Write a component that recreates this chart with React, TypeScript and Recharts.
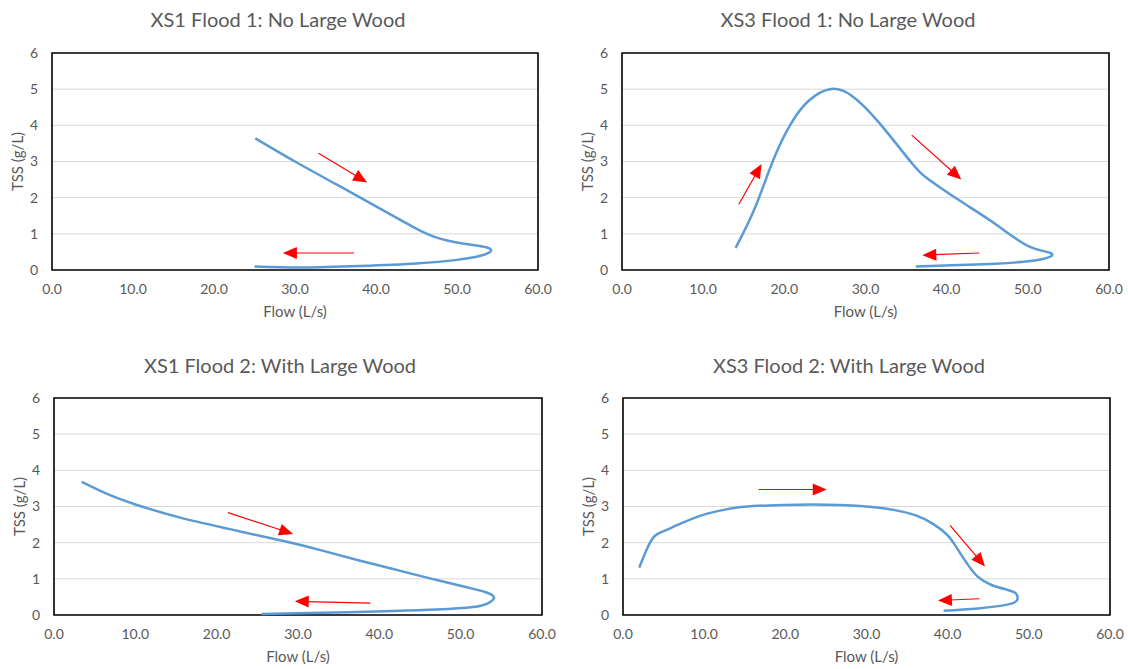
import React from 'react';
import {
  LineChart,
  Line,
  XAxis,
  YAxis,
  CartesianGrid,
  ReferenceArea,
  ReferenceLine,
} from 'recharts';

// tick labels
const flowTicks = [0, 10, 20, 30, 40, 50, 60];
const tssTicks = [0, 1, 2, 3, 4, 5, 6];

// XS1 Flood 1: No Large Wood
const xs1f1Flow = [25.1, 30.0, 35.0, 40.0, 42.5, 44.5, 46.3, 48.0, 49.8, 52.0, 53.6, 54.2, 53.0, 50.0, 45.0, 38.0, 31.0, 25.0];
const xs1f1Tss = [3.64, 3.0, 2.38, 1.76, 1.45, 1.2, 1.0, 0.86, 0.77, 0.69, 0.63, 0.53, 0.4, 0.28, 0.18, 0.11, 0.07, 0.1];
const xs1f1Arrows = [
  [32.9, 3.23, 38.9, 2.42],
  [37.3, 0.47, 28.5, 0.47],
];

// XS3 Flood 1: No Large Wood
const xs3f1Flow = [14.0, 16.4, 18.6, 20.8, 23.0, 25.6, 28.3, 31.8, 35.8, 38.0, 41.6, 46.0, 50.0, 52.8, 51.7, 46.0, 41.6, 36.2];
const xs3f1Tss = [0.61, 1.73, 3.02, 4.04, 4.68, 5.0, 4.82, 4.04, 2.93, 2.47, 1.92, 1.27, 0.67, 0.47, 0.3, 0.17, 0.14, 0.1];
const xs3f1Arrows = [
  [14.4, 1.82, 17.2, 2.93],
  [35.7, 3.73, 41.8, 2.5],
  [44.0, 0.47, 37.0, 0.41],
];

// XS1 Flood 2: With Large Wood
const xs1f2Flow = [3.4, 6.6, 10.1, 15.4, 21.9, 28.5, 33.0, 37.3, 41.7, 46.1, 50.5, 53.1, 54.1, 53.4, 51.5, 47.0, 41.7, 32.9, 25.5];
const xs1f2Tss = [3.68, 3.34, 3.05, 2.7, 2.36, 2.03, 1.78, 1.52, 1.27, 1.02, 0.78, 0.63, 0.48, 0.33, 0.22, 0.15, 0.11, 0.06, 0.03];
const xs1f2Arrows = [
  [21.4, 2.83, 29.4, 2.24],
  [38.9, 0.33, 29.6, 0.38],
];

// XS3 Flood 2: With Large Wood
const xs3f2Flow = [2.0, 2.8, 3.8, 5.0, 6.5, 8.5, 10.5, 12.7, 14.9, 18.0, 21.6, 25.0, 28.2, 31.0, 33.5, 36.0, 38.2, 40.0, 41.2, 42.4, 43.7, 45.4, 47.3, 48.4, 48.6, 47.6, 43.7, 39.5];
const xs3f2Tss = [1.31, 1.75, 2.16, 2.32, 2.47, 2.66, 2.81, 2.92, 2.99, 3.03, 3.05, 3.05, 3.03, 2.98, 2.9, 2.76, 2.52, 2.2, 1.83, 1.42, 1.06, 0.83, 0.7, 0.6, 0.44, 0.3, 0.18, 0.12];
const xs3f2Arrows = [
  [16.7, 3.47, 25.1, 3.47],
  [40.3, 2.48, 44.6, 1.34],
  [43.9, 0.45, 38.8, 0.4],
];

const FONT = 'Lato, "Open Sans", sans-serif';
const TEXT = '#595959';

const toPoints = (flow: number[], tss: number[]) => flow.map((x, i) => ({ x, y: tss[i] }));

const Arrow = (p: any) => {
  const { x1, y1, x2, y2 } = p;
  const dx = x2 - x1;
  const dy = y2 - y1;
  const len = Math.hypot(dx, dy) || 1;
  const ux = dx / len;
  const uy = dy / len;
  const hl = 14;
  const hw = 6;
  const bx = x2 - ux * hl;
  const by = y2 - uy * hl;
  return (
    <g>
      <line x1={x1} y1={y1} x2={bx + ux * 2} y2={by + uy * 2} stroke="#ff0000" strokeWidth={1.2} />
      <polygon
        points={`${x2},${y2} ${bx - uy * hw},${by + ux * hw} ${bx + uy * hw},${by - ux * hw}`}
        fill="#ff0000"
      />
    </g>
  );
};

const XTitle = (props: any) => {
  const vb = props.viewBox;
  return (
    <text
      x={vb.x + vb.width / 2}
      y={vb.y + 41}
      textAnchor="middle"
      dominantBaseline="central"
      fill={TEXT}
      fontSize={15}
      fontFamily={FONT}
    >
      Flow (L/s)
    </text>
  );
};

const YTitle = (props: any) => {
  const vb = props.viewBox;
  const x = vb.x + vb.width - 35;
  const y = vb.y + vb.height / 2;
  return (
    <text
      x={x}
      y={y}
      transform={`rotate(-90, ${x}, ${y})`}
      textAnchor="middle"
      dominantBaseline="central"
      fill={TEXT}
      fontSize={15}
      fontFamily={FONT}
    >
      TSS (g/L)
    </text>
  );
};

type PanelProps = {
  title: string;
  flow: number[];
  tss: number[];
  arrows: number[][];
  left: number;
  top: number;
  width: number;
  height: number;
  plotLeft: number;
  plotTop: number;
  plotRight: number;
  plotBottom: number;
  titleX: number;
  titleY: number;
};

const Panel = (p: PanelProps) => {
  const axisH = 50;
  const margin = {
    top: p.plotTop - p.top,
    right: p.left + p.width - p.plotRight,
    left: 0,
    bottom: p.top + p.height - p.plotBottom - axisH,
  };
  const data = toPoints(p.flow, p.tss);
  return (
    <div style={{ position: 'absolute', left: p.left, top: p.top, width: p.width, height: p.height }}>
      <div
        style={{
          position: 'absolute',
          left: p.titleX - p.left - 200,
          top: p.titleY - p.top - 12,
          width: 400,
          lineHeight: '24px',
          textAlign: 'center',
          fontFamily: FONT,
          fontSize: 20,
          color: TEXT,
          whiteSpace: 'nowrap',
        }}
      >
        {p.title}
      </div>
      <LineChart width={p.width} height={p.height} margin={margin}>
        <CartesianGrid vertical={false} stroke="#d9d9d9" strokeWidth={1} />
        <XAxis
          type="number"
          dataKey="x"
          domain={[0, 60]}
          ticks={flowTicks}
          interval={0}
          tickFormatter={(v: number) => v.toFixed(1)}
          axisLine={false}
          tickLine={false}
          tickMargin={8}
          height={axisH}
          tick={{ fill: TEXT, fontSize: 14, fontFamily: FONT }}
          label={{ content: XTitle }}
        />
        <YAxis
          type="number"
          dataKey="y"
          domain={[0, 6]}
          ticks={tssTicks}
          interval={0}
          width={p.plotLeft - p.left}
          axisLine={false}
          tickLine={false}
          tickMargin={8}
          tick={{ fill: TEXT, fontSize: 14, fontFamily: FONT }}
          label={{ content: YTitle }}
        />
        <ReferenceArea x1={0} x2={60} y1={0} y2={6} fill="none" stroke="#000" strokeWidth={1.6} />
        <Line
          data={data}
          dataKey="y"
          type="natural"
          stroke="#5b9bd5"
          strokeWidth={2.5}
          dot={false}
          activeDot={false}
          isAnimationActive={false}
        />
        {p.arrows.map((a, i) => (
          <ReferenceLine
            key={i}
            segment={[
              { x: a[0], y: a[1] },
              { x: a[2], y: a[3] },
            ]}
            shape={Arrow}
          />
        ))}
      </LineChart>
    </div>
  );
};

export default function App() {
  return (
    <div style={{ position: 'absolute', left: 0, top: 0, width: 1128, height: 669, background: '#fff' }}>
      <Panel
        title="XS1 Flood 1: No Large Wood"
        flow={xs1f1Flow}
        tss={xs1f1Tss}
        arrows={xs1f1Arrows}
        left={0}
        top={0}
        width={556}
        height={330}
        plotLeft={52}
        plotTop={53}
        plotRight={538}
        plotBottom={270}
        titleX={278}
        titleY={19}
      />
      <Panel
        title="XS3 Flood 1: No Large Wood"
        flow={xs3f1Flow}
        tss={xs3f1Tss}
        arrows={xs3f1Arrows}
        left={565}
        top={0}
        width={563}
        height={330}
        plotLeft={622}
        plotTop={53}
        plotRight={1109}
        plotBottom={270}
        titleX={848}
        titleY={19}
      />
      <Panel
        title="XS1 Flood 2: With Large Wood"
        flow={xs1f2Flow}
        tss={xs1f2Tss}
        arrows={xs1f2Arrows}
        left={0}
        top={340}
        width={560}
        height={329}
        plotLeft={54}
        plotTop={398}
        plotRight={542}
        plotBottom={615}
        titleX={280}
        titleY={365}
      />
      <Panel
        title="XS3 Flood 2: With Large Wood"
        flow={xs3f2Flow}
        tss={xs3f2Tss}
        arrows={xs3f2Arrows}
        left={565}
        top={340}
        width={563}
        height={329}
        plotLeft={623}
        plotTop={398}
        plotRight={1110}
        plotBottom={615}
        titleX={849}
        titleY={365}
      />
    </div>
  );
}
